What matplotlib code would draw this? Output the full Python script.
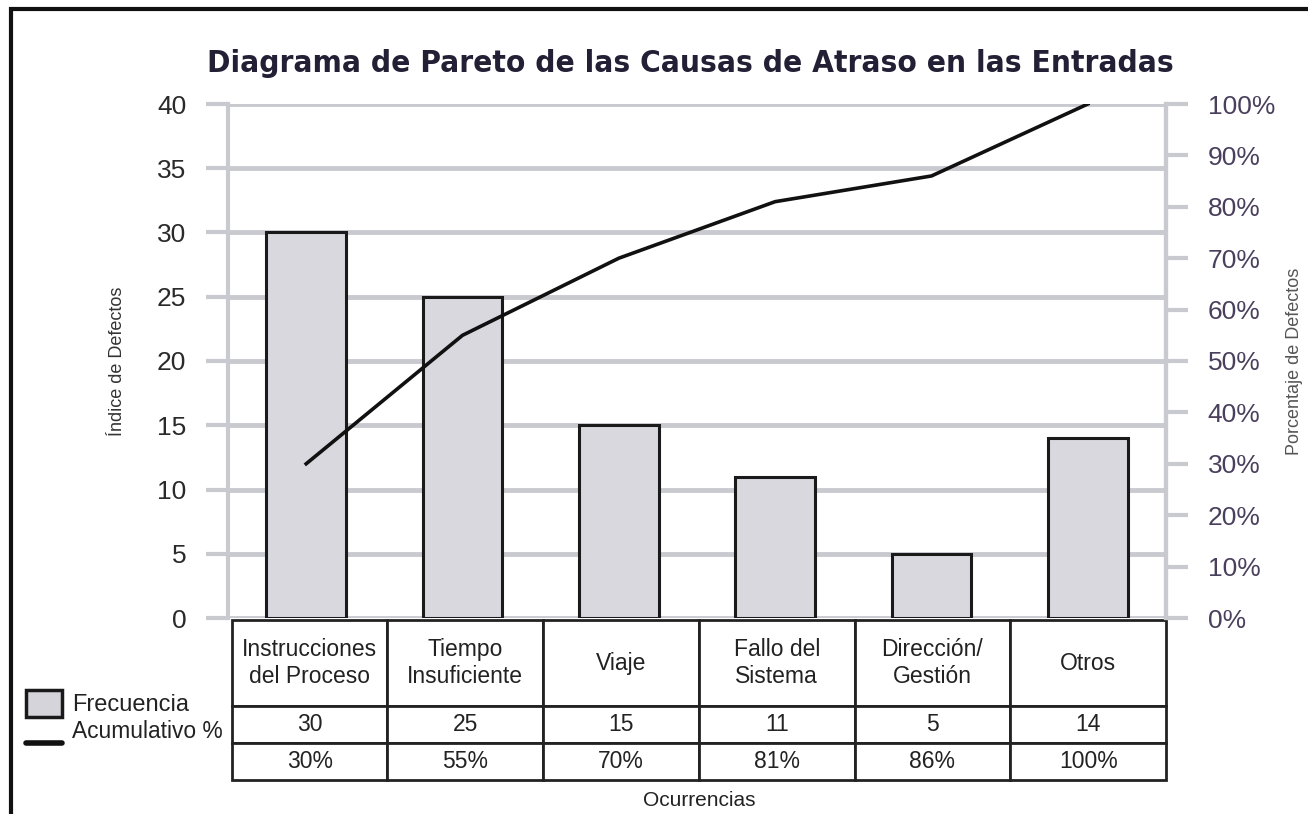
import matplotlib
matplotlib.use("Agg")
from matplotlib import pyplot as plt
from matplotlib.patches import Rectangle
from matplotlib.lines import Line2D
import numpy as np

categorias = ["Instrucciones\ndel Proceso", "Tiempo\nInsuficiente", "Viaje",
              "Fallo del\nSistema", "Dirección/\nGestión", "Otros"]
frecuencia = [30, 25, 15, 11, 5, 14]
acumulado = [30, 55, 70, 81, 86, 100]
ticks_izq = [0, 5, 10, 15, 20, 25, 30, 35, 40]
ticks_der = [0, 10, 20, 30, 40, 50, 60, 70, 80, 90, 100]

fuente = ["Liberation Sans", "DejaVu Sans"]
gris_grid = "#c9c9d0"

fig = plt.figure(figsize=(13.08, 8.14), dpi=100)
W, H = 1308, 814

ax = fig.add_axes([228 / W, 1 - 618 / H, (1166 - 228) / W, (618 - 104) / H])
x = np.arange(len(frecuencia))
ax.bar(x, frecuencia, width=0.51, color="#d8d8de", edgecolor="#1a1a1a",
       linewidth=2.2, zorder=3)
ax.set_xlim(-0.5, len(frecuencia) - 0.5)
ax.set_ylim(0, 40)
ax.set_yticks(ticks_izq)
ax.set_yticklabels([str(t) for t in ticks_izq], fontsize=19, color="#2a2a2a",
                   family=fuente)
ax.tick_params(axis="y", length=16, width=3, color=gris_grid, pad=14)
ax.set_xticks([])
ax.grid(axis="y", color=gris_grid, linewidth=3.5, zorder=0)
for s in ["top", "bottom"]:
    ax.spines[s].set_visible(False)
ax.spines["left"].set_color(gris_grid)
ax.spines["left"].set_linewidth(3)
ax.spines["right"].set_color(gris_grid)
ax.spines["right"].set_linewidth(3)
ax.set_ylabel("Índice de Defectos", fontsize=13, color="#333333",
              family=fuente, labelpad=22)

ax2 = ax.twinx()
ax2.plot(x, acumulado, color="#111111", linewidth=2.6, zorder=5)
ax2.set_ylim(0, 100)
ax2.set_yticks(ticks_der)
ax2.set_yticklabels([f"{t}%" for t in ticks_der], fontsize=19,
                    color="#4a3f5c", family=fuente)
ax2.tick_params(axis="y", length=16, width=3, color=gris_grid, pad=14)
for s in ["top", "bottom", "left"]:
    ax2.spines[s].set_visible(False)
ax2.spines["right"].set_color(gris_grid)
ax2.spines["right"].set_linewidth(3)
ax2.set_ylabel("Porcentaje de Defectos", fontsize=13, color="#555555",
               family=fuente, labelpad=8)

# tabla de datos bajo el eje
filas = [[str(v) for v in frecuencia], [f"{v}%" for v in acumulado]]
tabla = ax.table(cellText=filas, colLabels=categorias, cellLoc="center",
                 bbox=[0.004, -0.3152, 0.996, 0.3113])
tabla.auto_set_font_size(False)
for (r, c), celda in tabla.get_celld().items():
    celda.set_edgecolor("#222222")
    celda.set_linewidth(2)
    celda.set_height(86 if r == 0 else 37)
    celda.get_text().set_fontsize(16.5)
    celda.get_text().set_color("#222222")
    celda.get_text().set_family(fuente)

# leyenda a la izquierda de la tabla
fig.patches.append(Rectangle((26 / W, 1 - 717 / H), 36 / W, 27 / H,
                             transform=fig.transFigure, facecolor="#d4d4da",
                             edgecolor="#1a1a1a", linewidth=2.5))
fig.lines.append(Line2D([26 / W, 62 / W], [1 - 743 / H, 1 - 743 / H],
                        transform=fig.transFigure, color="#111111",
                        linewidth=4, solid_capstyle="round"))
fig.text(72 / W, 1 - 705 / H, "Frecuencia", fontsize=17, va="center",
         color="#222222", family=fuente)
fig.text(72 / W, 1 - 732 / H, "Acumulativo %", fontsize=16.4, va="center",
         color="#222222", family=fuente)

fig.text(699 / W, 1 - 800 / H, "Ocurrencias", fontsize=15, ha="center",
         va="center", color="#222222", family=fuente)

fig.text(690 / W, 1 - 63 / H, "Diagrama de Pareto de las Causas de Atraso en las Entradas",
         fontsize=22.6, fontweight="heavy", fontstretch="condensed", ha="center",
         va="center", color="#231f35", family=["DejaVu Sans"])

# marco de la figura
fig.patches.append(Rectangle((11 / W, -0.05), 1.2, 1 - 9 / H + 0.05,
                             transform=fig.transFigure, fill=False,
                             edgecolor="#111111", linewidth=3))

fig.savefig("out.png", dpi=100)
